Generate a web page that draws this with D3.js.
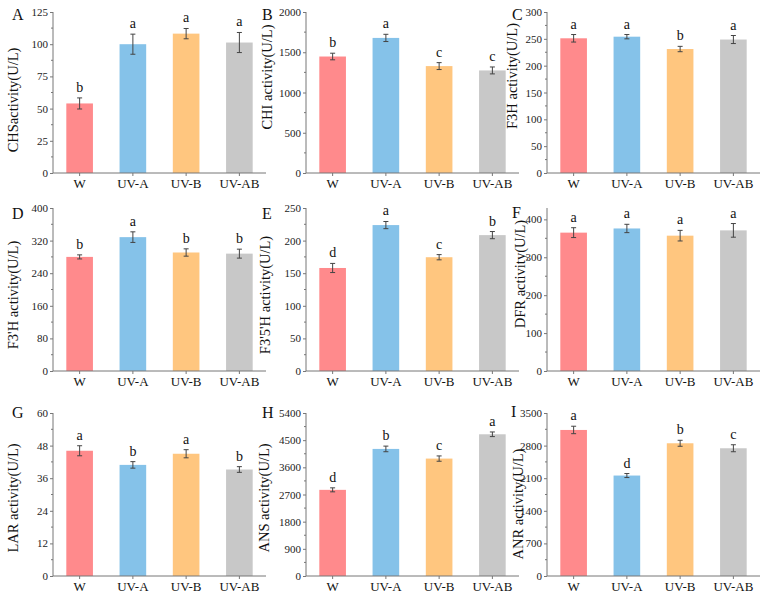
<!DOCTYPE html>
<html><head><meta charset="utf-8">
<script src="https://cdn.jsdelivr.net/npm/d3@7"></script>
<style>body{margin:0;background:#fff}svg{display:block}text{font-family:"Liberation Serif","Times New Roman",serif}</style>
</head><body><svg id="c" width="767" height="600"></svg>
<script>
const categories = ["W","UV-A","UV-B","UV-AB"];
const colors = ["#FF8A8C","#85C2E9","#FFC67F","#C8C8C8"];
const panelLetters = ["A","B","C","D","E","F","G","H","I"];
const yTitles = ["CHSactivity(U/L)","CHI activity(U/L)","F3H activity(U/L)","F3'H activity(U/L)","F3'5'H activity(U/L)","DFR activity(U/L)","LAR activity(U/L)","ANS activity(U/L)","ANR activity(U/L)"];
const yMax = [125,2000,300,400,250,430,60,5400,3500];
const yStep = [25,500,50,80,50,100,12,900,700];
const meansCHS = [54,100,108.2,101.3];   const errCHS = [4.3,7.8,4,7.8];   const sigCHS = ["b","a","a","a"];
const meansCHI = [1447,1678,1328,1274];  const errCHI = [41,45,43,43];     const sigCHI = ["b","a","c","c"];
const meansF3H = [251,254,231,248.7];    const errF3H = [7,4,5,7.5];       const sigF3H = ["a","a","b","a"];
const meansF3pH = [280,328.5,290.8,288]; const errF3pH = [5,13,9,11];      const sigF3pH = ["b","a","b","b"];
const meansF35H = [158,223.8,174.5,208.4]; const errF35H = [7,5.5,4,5.5]; const sigF35H = ["d","a","c","b"];
const meansDFR = [365,376,357,371];      const errDFR = [13,11,14,18];     const sigDFR = ["a","a","a","a"];
const meansLAR = [46.1,40.9,45,39.2];    const errLAR = [1.85,1.2,1.5,1.05]; const sigLAR = ["a","b","a","b"];
const meansANS = [2854,4210,3890,4695];  const errANS = [66,93,88,77];     const sigANS = ["d","b","c","a"];
const meansANR = [3136,2157,2850,2743];  const errANR = [80,43,64,75];     const sigANR = ["a","d","b","c"];

const means = [meansCHS,meansCHI,meansF3H,meansF3pH,meansF35H,meansDFR,meansLAR,meansANS,meansANR];
const errs = [errCHS,errCHI,errF3H,errF3pH,errF35H,errDFR,errLAR,errANS,errANR];
const sigs = [sigCHS,sigCHI,sigF3H,sigF3pH,sigF35H,sigDFR,sigLAR,sigANS,sigANR];

// layout
const colX = [53,306,547];
const rowY = [[12,173],[208,371],[413,576]];
const plotW = 213;
const titleX = [13,267,512,13,265,520,13,264,518];
const titleCY = [100,77,76,295,295,274,498,498,504];
const letterPos = [[12,20],[262,20],[512,20],[12,219],[262,219],[512,218],[12,418],[262,418],[511,417]];

const svg = d3.select("#c");
const axisColor = "#777";

for (let p = 0; p < 9; p++) {
  const col = p % 3, row = Math.floor(p / 3);
  const x0 = colX[col], yTop = rowY[row][0], yBot = rowY[row][1];
  const g = svg.append("g");
  const x = d3.scaleBand().domain(categories).range([x0, x0 + plotW]).paddingInner(0.5).paddingOuter(0.25);
  const y = d3.scaleLinear().domain([0, yMax[p]]).range([yBot, yTop]);
  const ticks = d3.range(0, yMax[p] + 1e-9, yStep[p]);
  const minor = d3.range(yStep[p] / 2, yMax[p], yStep[p]);

  // bars
  g.selectAll("rect").data(means[p]).join("rect")
    .attr("x", (d, i) => x(categories[i]))
    .attr("y", d => y(d))
    .attr("width", x.bandwidth())
    .attr("height", d => yBot - y(d))
    .attr("fill", (d, i) => colors[i]);

  // error bars
  means[p].forEach((m, i) => {
    const cx = x(categories[i]) + x.bandwidth() / 2;
    const e = errs[p][i];
    g.append("line").attr("x1", cx).attr("x2", cx).attr("y1", y(m - e)).attr("y2", y(m + e)).attr("stroke", "#444").attr("stroke-width", 1);
    [m - e, m + e].forEach(v => g.append("line").attr("x1", cx - 2.5).attr("x2", cx + 2.5).attr("y1", y(v)).attr("y2", y(v)).attr("stroke", "#444").attr("stroke-width", 1));
    g.append("text").attr("x", cx).attr("y", y(m + e) - 6).attr("text-anchor", "middle").attr("font-size", 14).attr("fill", "#111").text(sigs[p][i]);
  });

  // y axis
  const ya = g.append("g").attr("transform", `translate(${x0},0)`)
    .call(d3.axisLeft(y).tickValues(ticks).tickSize(3).tickPadding(2).tickFormat(d3.format("d")));
  ya.select(".domain").attr("stroke", axisColor).attr("d", `M0,${yBot}V${yTop}`);
  ya.selectAll(".tick line").attr("stroke", axisColor);
  ya.selectAll("text").attr("font-size", 11).attr("font-family", "Liberation Serif").attr("fill", "#222");
  minor.forEach(v => g.append("line").attr("x1", x0 - 2).attr("x2", x0).attr("y1", y(v)).attr("y2", y(v)).attr("stroke", axisColor));

  // x axis
  const xa = g.append("g").attr("transform", `translate(0,${yBot})`)
    .call(d3.axisBottom(x).tickSize(3).tickPadding(3));
  xa.select(".domain").attr("stroke", axisColor).attr("d", `M${x0},0H${x0 + plotW}`);
  xa.selectAll(".tick line").attr("stroke", axisColor);
  xa.selectAll("text").attr("font-size", 13).attr("font-family", "Liberation Serif").attr("fill", "#111");

  // y title
  g.append("text").attr("transform", `translate(${titleX[p] + 5},${titleCY[p]}) rotate(-90)`)
    .attr("text-anchor", "middle").attr("font-size", 14.5).attr("fill", "#111").text(yTitles[p]);

  // panel letter
  g.append("text").attr("x", letterPos[p][0]).attr("y", letterPos[p][1]).attr("font-size", 16).attr("fill", "#111").text(panelLetters[p]);
}
</script></body></html>
